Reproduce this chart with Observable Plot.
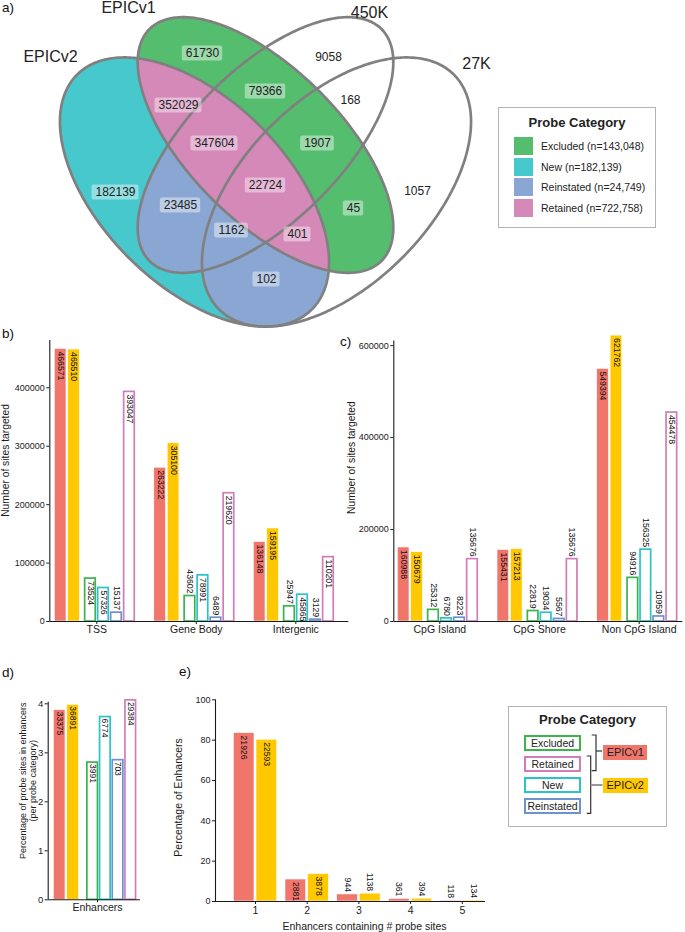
<!DOCTYPE html>
<html>
<head>
<meta charset="utf-8">
<script src="https://cdn.jsdelivr.net/npm/d3@7"></script>
<script src="https://cdn.jsdelivr.net/npm/@observablehq/plot@0.6"></script>
<style>
html,body{margin:0;padding:0;background:#fff;}
body{font-family:"Liberation Sans",Arial,Helvetica,sans-serif;color:#1a1a1a;}
#root{position:relative;width:685px;height:932px;overflow:hidden;background:#fff;}
#root svg{overflow:visible;}
.lbl{position:absolute;font-size:13.5px;line-height:14px;color:#111;}
</style>
</head>
<body>
<div id="root"></div>
<script>
// ================= DATA =================
// Venn (panel a)
const vennSets = ["EPICv2", "EPICv1", "450K", "27K"];
const vennRegions = ["EPICv2", "EPICv1", "450K", "27K", "EPICv2&EPICv1", "EPICv1&450K", "450K&27K",
  "EPICv2&450K", "EPICv1&27K", "EPICv2&27K", "EPICv2&EPICv1&450K", "EPICv1&450K&27K",
  "EPICv2&450K&27K", "EPICv2&EPICv1&27K", "all"];
const vennCounts = [182139, 61730, 9058, 1057, 352029, 79366, 168, 23485, 45, 102, 347604, 1907, 1162, 401, 22724];
const vennRegionCategory = ["New", "Excluded", null, null, "Retained", "Excluded", null, "Reinstated",
  "Excluded", "Reinstated", "Retained", "Excluded", "Reinstated", "Retained", "Retained"];
const probeCategories = ["Excluded", "New", "Reinstated", "Retained"];
const probeCategoryN = ["143,048", "182,139", "24,749", "722,758"];

// Bars (panels b-d)
const barSeries = ["EPICv1", "EPICv2", "Excluded", "New", "Reinstated", "Retained"];
const featureGroups = ["TSS", "Gene Body", "Intergenic"];
const tssValues = [466571, 465510, 73524, 57326, 15137, 393047];
const geneBodyValues = [263222, 305100, 43602, 78991, 6489, 219620];
const intergenicValues = [136148, 159195, 25947, 45865, 3129, 110201];
const cpgGroups = ["CpG Island", "CpG Shore", "Non CpG Island"];
const cpgIslandValues = [160988, 150679, 25312, 6780, 8223, 135676];
const cpgShoreValues = [155431, 157213, 22819, 19034, 5567, 135676];
const nonCpgIslandValues = [549394, 621762, 94916, 156325, 10959, 454478];
const enhancerPct = [3.87, 3.98, 2.80, 3.73, 2.85, 4.07];
const enhancerCounts = [33375, 36891, 3991, 6774, 703, 29384];

// Panel e
const probeSiteBins = ["1", "2", "3", "4", "5"];
const epicv1EnhancerPct = [83.5, 10.9, 3.5, 1.3, 0.45];
const epicv2EnhancerPct = [80.2, 13.6, 3.9, 1.4, 0.5];
const epicv1EnhancerCounts = [21926, 2881, 944, 361, 118];
const epicv2EnhancerCounts = [22593, 3878, 1138, 394, 134];

// ================= STYLE / LAYOUT =================
const FONT = '"Liberation Sans", Arial, Helvetica, sans-serif';
const vennColor = {Excluded: "#55BE6E", New: "#46C8CD", Reinstated: "#8AA7D4", Retained: "#D589B9"};
const seriesFill = ["#F0756B", "#FFC800"];
const seriesStroke = ["#F0756B", "#FFC800", "#3CB44B", "#2BC3C8", "#6E92CF", "#D27DB9"];
const ellipseShapes = {
  "EPICv2": {cx: 194, cy: 191.5, a: 166, b: 93, rot: 45},
  "EPICv1": {cx: 265, cy: 144.5, a: 164, b: 76, rot: 45},
  "450K":   {cx: 265, cy: 144.5, a: 164, b: 76, rot: -45},
  "27K":    {cx: 336, cy: 191.5, a: 166, b: 93, rot: -45}
};
const vennLabelXY = [[115,192],[202,53],[328,57],[417,191],[178,105],[265,91],[350,100],[180,205],
  [353,208],[266,279],[214,143],[317,143],[231,230],[297,234],[265,185]];
const vennSetLabelXY = [[50,56],[128,7],[369,12],[476,63]];

const root = document.getElementById("root");
function put(el, left, top) {
  el.style.position = "absolute"; el.style.left = left + "px"; el.style.top = top + "px";
  root.appendChild(el); return el;
}
function html(str) { const d = document.createElement("div"); d.innerHTML = str; root.appendChild(d); return d; }
const plotStyle = {fontFamily: FONT, background: "none", overflow: "visible", color: "#1a1a1a"};

// ================= PANEL A : VENN =================
function ellipsePoints(e) {
  const r = e.rot * Math.PI / 180, pts = [];
  for (let i = 0; i < 360; i++) {
    const u = i * Math.PI / 180, px = e.a * Math.cos(u), py = e.b * Math.sin(u);
    pts.push({x: e.cx + px * Math.cos(r) - py * Math.sin(r), y: e.cy + px * Math.sin(r) + py * Math.cos(r)});
  }
  return pts;
}
const shape = s => ellipsePoints(ellipseShapes[s]);
const vennRows = vennRegions.map((r, i) => ({region: r, count: vennCounts[i], cat: vennRegionCategory[i],
  x: vennLabelXY[i][0], y: vennLabelXY[i][1]}));
const boxW = d => String(d.count).length * 6.67 + 7;
const venn = Plot.plot({
  width: 480, height: 330, margin: 0,
  x: {domain: [0, 480], range: [0, 480], axis: null},
  y: {domain: [0, 330], range: [0, 330], axis: null},
  style: plotStyle,
  marks: [
    Plot.line(shape("EPICv2"), {x: "x", y: "y", curve: "linear-closed", fill: vennColor.New, stroke: "none"}),
    Plot.line(shape("450K"), {x: "x", y: "y", curve: "linear-closed", fill: vennColor.Reinstated, stroke: "none"}),
    Plot.line(shape("27K"), {x: "x", y: "y", curve: "linear-closed", fill: vennColor.Reinstated, stroke: "none"}),
    Plot.line(shape("EPICv1"), {x: "x", y: "y", curve: "linear-closed", fill: vennColor.Excluded, stroke: "none"}),
    Plot.line(shape("EPICv1"), {x: "x", y: "y", curve: "linear-closed", fill: vennColor.Retained, stroke: "none"}),
    ...vennSets.map(s => Plot.line(shape(s), {x: "x", y: "y", curve: "linear-closed", fill: "none", stroke: "#808080", strokeWidth: 2.7})),
    Plot.rect(vennRows.filter(d => d.cat), {x1: d => d.x - boxW(d) / 2, x2: d => d.x + boxW(d) / 2,
      y1: d => d.y - 7.5, y2: d => d.y + 7.5, fill: "white", fillOpacity: 0.42, rx: 2}),
    Plot.text(vennRows, {x: "x", y: "y", text: d => String(d.count), fontSize: 12, fill: "#222"}),
    Plot.text(vennSets, {x: (d, i) => vennSetLabelXY[i][0], y: (d, i) => vennSetLabelXY[i][1], text: d => d, fontSize: 16, fill: "#222"})
  ]
});
put(venn, 0, 0);
// clip overlap fills to the EPICv2 ellipse
(function () {
  const ns = "http://www.w3.org/2000/svg";
  const groups = venn.querySelectorAll('g[aria-label="line"]');
  const pathA = groups[0].querySelector("path");
  const defs = document.createElementNS(ns, "defs");
  const cp = document.createElementNS(ns, "clipPath");
  cp.setAttribute("id", "clipEPICv2");
  const p = document.createElementNS(ns, "path");
  p.setAttribute("d", pathA.getAttribute("d"));
  cp.appendChild(p); defs.appendChild(cp); venn.insertBefore(defs, venn.firstChild);
  [1, 2, 4].forEach(k => groups[k].setAttribute("clip-path", "url(#clipEPICv2)"));
})();

// ================= PANELS B, C =================
function sixBarPanel(cfg) {
  const rows = [];
  cfg.values.forEach((vals, gi) => vals.forEach((v, si) => rows.push({gi, si, value: v})));
  const left = d => cfg.gStart + d.gi * cfg.gPitch + (d.si < 2 ? d.si * 13.4 : cfg.gap + (d.si - 2) * 13);
  const center = d => left(d) + 6;
  const inside = d => d.si < 2 || d.value > cfg.insideAbove;
  const ticks = cfg.groups.map((g, gi) => cfg.gStart + gi * cfg.gPitch + 42);
  const tickName = new Map(ticks.map((t, i) => [t, cfg.groups[i]]));
  return Plot.plot({
    width: cfg.width, height: cfg.height,
    marginLeft: cfg.mL, marginRight: cfg.width - cfg.mL - cfg.xMax, marginTop: cfg.mT, marginBottom: cfg.mB,
    x: {domain: [0, cfg.xMax], axis: null},
    y: {domain: [0, cfg.yMax], axis: null},
    color: {type: "identity"},
    style: plotStyle,
    marks: [
      Plot.rect(rows.filter(d => d.si < 2), {x1: left, x2: d => left(d) + 11.7, y1: 0, y2: "value",
        fill: d => seriesFill[d.si], stroke: "white", strokeWidth: 0.6}),
      Plot.rect(rows.filter(d => d.si >= 2), {x1: d => left(d) + 0.85, x2: d => left(d) + 11.45, y1: 0, y2: "value",
        fill: "white", stroke: d => seriesStroke[d.si], strokeWidth: 1.7}),
      Plot.text(rows.filter(inside), {x: center, y: "value", text: d => String(d.value), rotate: 90,
        textAnchor: "start", dy: 2.5, fontSize: 8.7, fill: "#111"}),
      Plot.text(rows.filter(d => !inside(d)), {x: center, y: "value", text: d => String(d.value), rotate: 90,
        textAnchor: "end", dy: -2.5, fontSize: 8.7, fill: "#111"}),
      Plot.ruleX([0], {y1: 0, y2: cfg.yAxisTop, stroke: "#1a1a1a", strokeWidth: 1.1}),
      Plot.ruleY([0], {x1: 0, x2: cfg.xMax, stroke: "#1a1a1a", strokeWidth: 1.1}),
      Plot.axisY({ticks: cfg.yTicks, tickFormat: d => String(d), tickSize: 3, tickPadding: 2, fontSize: 9, label: null}),
      Plot.axisX({ticks, tickFormat: d => tickName.get(d), tickSize: 3, tickPadding: 1, fontSize: 10.5, label: null}),
      Plot.text(["Number of sites targeted"], {x: cfg.yLabelX, y: cfg.yLabelY, text: d => d, rotate: -90, fontSize: 10.3, fill: "#1a1a1a"})
    ]
  });
}
put(sixBarPanel({values: [tssValues, geneBodyValues, intergenicValues], groups: featureGroups,
  width: 350, height: 330, mL: 49.3, mT: 20, mB: 29, xMax: 299, yMax: 481000, yAxisTop: 481000,
  yTicks: [0, 100000, 200000, 300000, 400000], gStart: 5, gPitch: 99.5, gap: 29.5, insideAbove: 45000,
  yLabelX: -43.8, yLabelY: 275700}), 0, 320);
put(sixBarPanel({values: [cpgIslandValues, cpgShoreValues, nonCpgIslandValues], groups: cpgGroups,
  width: 345, height: 330, mL: 53.3, mT: 15, mB: 29, xMax: 289, yMax: 622000, yAxisTop: 610000,
  yTicks: [0, 200000, 400000, 600000], gStart: 4, gPitch: 99.7, gap: 29.5, insideAbove: 200000,
  yLabelX: -41.8, yLabelY: 356500}), 340, 320);

// ================= PANEL D =================
(function () {
  const rows = barSeries.map((s, si) => ({si, pct: enhancerPct[si], count: enhancerCounts[si]}));
  const left = d => 5.6 + (d.si < 2 ? d.si * 13.4 : 32.7 + (d.si - 2) * 12.7);
  const center = d => left(d) + 6;
  const plot = Plot.plot({
    width: 145, height: 272, marginLeft: 47.7, marginRight: 5, marginTop: 39.4, marginBottom: 32.7,
    x: {domain: [0, 92.3], axis: null}, y: {domain: [0, 4.08], axis: null},
    color: {type: "identity"}, style: plotStyle,
    marks: [
      Plot.rect(rows.filter(d => d.si < 2), {x1: left, x2: d => left(d) + 11.7, y1: 0, y2: "pct",
        fill: d => seriesFill[d.si], stroke: "white", strokeWidth: 0.6}),
      Plot.rect(rows.filter(d => d.si >= 2), {x1: d => left(d) + 0.85, x2: d => left(d) + 11.45, y1: 0, y2: "pct",
        fill: "white", stroke: d => seriesStroke[d.si], strokeWidth: 1.7}),
      Plot.text(rows, {x: center, y: "pct", text: d => String(d.count), rotate: 90, textAnchor: "start", dy: 1.5, fontSize: 8.5, fill: "#111"}),
      Plot.ruleX([0], {y1: 0, y2: 4.03, stroke: "#1a1a1a", strokeWidth: 1.1}),
      Plot.ruleY([0], {x1: 0, x2: 92.3, stroke: "#1a1a1a", strokeWidth: 1.1}),
      Plot.axisY({ticks: [0, 1, 2, 3, 4], tickFormat: d => String(d), tickSize: 3, tickPadding: 2, fontSize: 9.5, label: null}),
      Plot.axisX({ticks: [49.3], tickFormat: () => "Enhancers", tickSize: 3, tickPadding: 1, fontSize: 10.5, label: null}),
      Plot.text(["Percentage of probe sites in enhancers\n(per probe category)"], {x: -20.5, y: 2.43, text: d => d,
        rotate: -90, fontSize: 9, lineHeight: 1.12, fill: "#1a1a1a"})
    ]
  });
  put(plot, 0, 660);
})();

// ================= PANEL E =================
(function () {
  const rows = [];
  probeSiteBins.forEach((b, gi) => {
    rows.push({gi, si: 0, pct: epicv1EnhancerPct[gi], count: epicv1EnhancerCounts[gi]});
    rows.push({gi, si: 1, pct: epicv2EnhancerPct[gi], count: epicv2EnhancerCounts[gi]});
  });
  const left = d => 18.3 + d.gi * 51.7 + d.si * 22.7;
  const center = d => left(d) + 10.35;
  const inside = d => d.pct > 8;
  const ticks = probeSiteBins.map((b, gi) => 40 + gi * 51.7);
  const tickName = new Map(ticks.map((t, i) => [t, probeSiteBins[i]]));
  const plot = Plot.plot({
    width: 340, height: 272, marginLeft: 65, marginRight: 5, marginTop: 39.3, marginBottom: 31,
    x: {domain: [0, 270], axis: null}, y: {domain: [0, 100], axis: null},
    color: {type: "identity"}, style: plotStyle,
    marks: [
      Plot.rect(rows, {x1: left, x2: d => left(d) + 20.7, y1: 0, y2: "pct", fill: d => seriesFill[d.si], stroke: "white", strokeWidth: 0.6}),
      Plot.text(rows.filter(inside), {x: center, y: "pct", text: d => String(d.count), rotate: 90, textAnchor: "start", dy: 2.5, fontSize: 8.6, fill: "#111"}),
      Plot.text(rows.filter(d => !inside(d)), {x: center, y: "pct", text: d => String(d.count), rotate: 90, textAnchor: "end", dy: -2.5, fontSize: 8.6, fill: "#111"}),
      Plot.ruleX([0], {y1: 0, y2: 100, stroke: "#1a1a1a", strokeWidth: 1.1}),
      Plot.ruleY([0], {x1: 0, x2: 270, stroke: "#1a1a1a", strokeWidth: 1.1}),
      Plot.axisY({ticks: [0, 20, 40, 60, 80, 100], tickSize: 3, tickPadding: 2, fontSize: 9, label: null}),
      Plot.axisX({ticks, tickFormat: d => tickName.get(d), tickSize: 3, tickPadding: 2, fontSize: 10.5, label: null}),
      Plot.text(["Percentage of Enhancers"], {x: -37, y: 51.6, text: d => d, rotate: -90, fontSize: 10.5, fill: "#1a1a1a"}),
      Plot.text(["Enhancers containing # probe sites"], {x: 149, y: -12.4, text: d => d, fontSize: 10.5, fill: "#1a1a1a"})
    ]
  });
  put(plot, 150, 660);
})();

// ================= PANEL LABELS =================
html(`<div class="lbl" style="left:2px;top:1px;">a)</div>
<div class="lbl" style="left:2px;top:327px;">b)</div>
<div class="lbl" style="left:340px;top:335px;">c)</div>
<div class="lbl" style="left:2px;top:666px;">d)</div>
<div class="lbl" style="left:179px;top:665px;">e)</div>`);

// ================= LEGEND 1 (Venn) =================
(function () {
  let s = `<div style="position:absolute;left:498px;top:107px;width:158px;height:121px;border:1.5px solid #b3b3b3;box-sizing:border-box;"></div>
  <div style="position:absolute;left:498px;top:115px;width:158px;text-align:center;font-weight:bold;font-size:13px;line-height:16px;color:#222;">Probe Category</div>`;
  const centers = [146, 167, 187, 208];
  probeCategories.forEach((c, i) => {
    s += `<div style="position:absolute;left:514px;top:${centers[i] - 9}px;width:19px;height:18px;background:${vennColor[c]};"></div>
    <div style="position:absolute;left:541px;top:${centers[i] - 7}px;font-size:10.5px;line-height:14px;color:#222;white-space:nowrap;">${c} (n=${probeCategoryN[i]})</div>`;
  });
  html(s);
})();

// ================= LEGEND 2 (bars) =================
(function () {
  const order = ["Excluded", "Retained", "New", "Reinstated"];
  const tops = [735, 756, 777.3, 798.3];
  let s = `<div style="position:absolute;left:508px;top:706px;width:159px;height:121px;border:1.5px solid #b3b3b3;box-sizing:border-box;"></div>
  <div style="position:absolute;left:508px;top:712px;width:159px;text-align:center;font-weight:bold;font-size:13px;line-height:16px;color:#222;">Probe Category</div>`;
  order.forEach((c, i) => {
    const col = seriesStroke[barSeries.indexOf(c)];
    s += `<div style="position:absolute;left:524.3px;top:${tops[i]}px;width:56.4px;height:16px;border:2px solid ${col};box-sizing:border-box;font-size:10.5px;line-height:12px;text-align:center;color:#222;background:#fff;">${c}</div>`;
  });
  s += `<svg style="position:absolute;left:580px;top:730px;" width="30" height="90">
    <path d="M11.7 5 H16 V40.7 H11.7" fill="none" stroke="#333" stroke-width="1.2"/>
    <path d="M16 21 H22" fill="none" stroke="#333" stroke-width="1.2"/>
    <path d="M6.7 26 H10.7 V83.3 H6.7" fill="none" stroke="#333" stroke-width="1.2"/>
    <path d="M10.7 55 H22.5" fill="none" stroke="#999" stroke-width="2"/>
  </svg>
  <div style="position:absolute;left:603.3px;top:745px;width:44px;height:15px;background:${seriesFill[0]};font-size:11px;line-height:15px;text-align:center;color:#222;">EPICv1</div>
  <div style="position:absolute;left:602.7px;top:777.7px;width:45px;height:15px;background:${seriesFill[1]};font-size:11px;line-height:15px;text-align:center;color:#222;">EPICv2</div>`;
  html(s);
})();
</script>
</body>
</html>
